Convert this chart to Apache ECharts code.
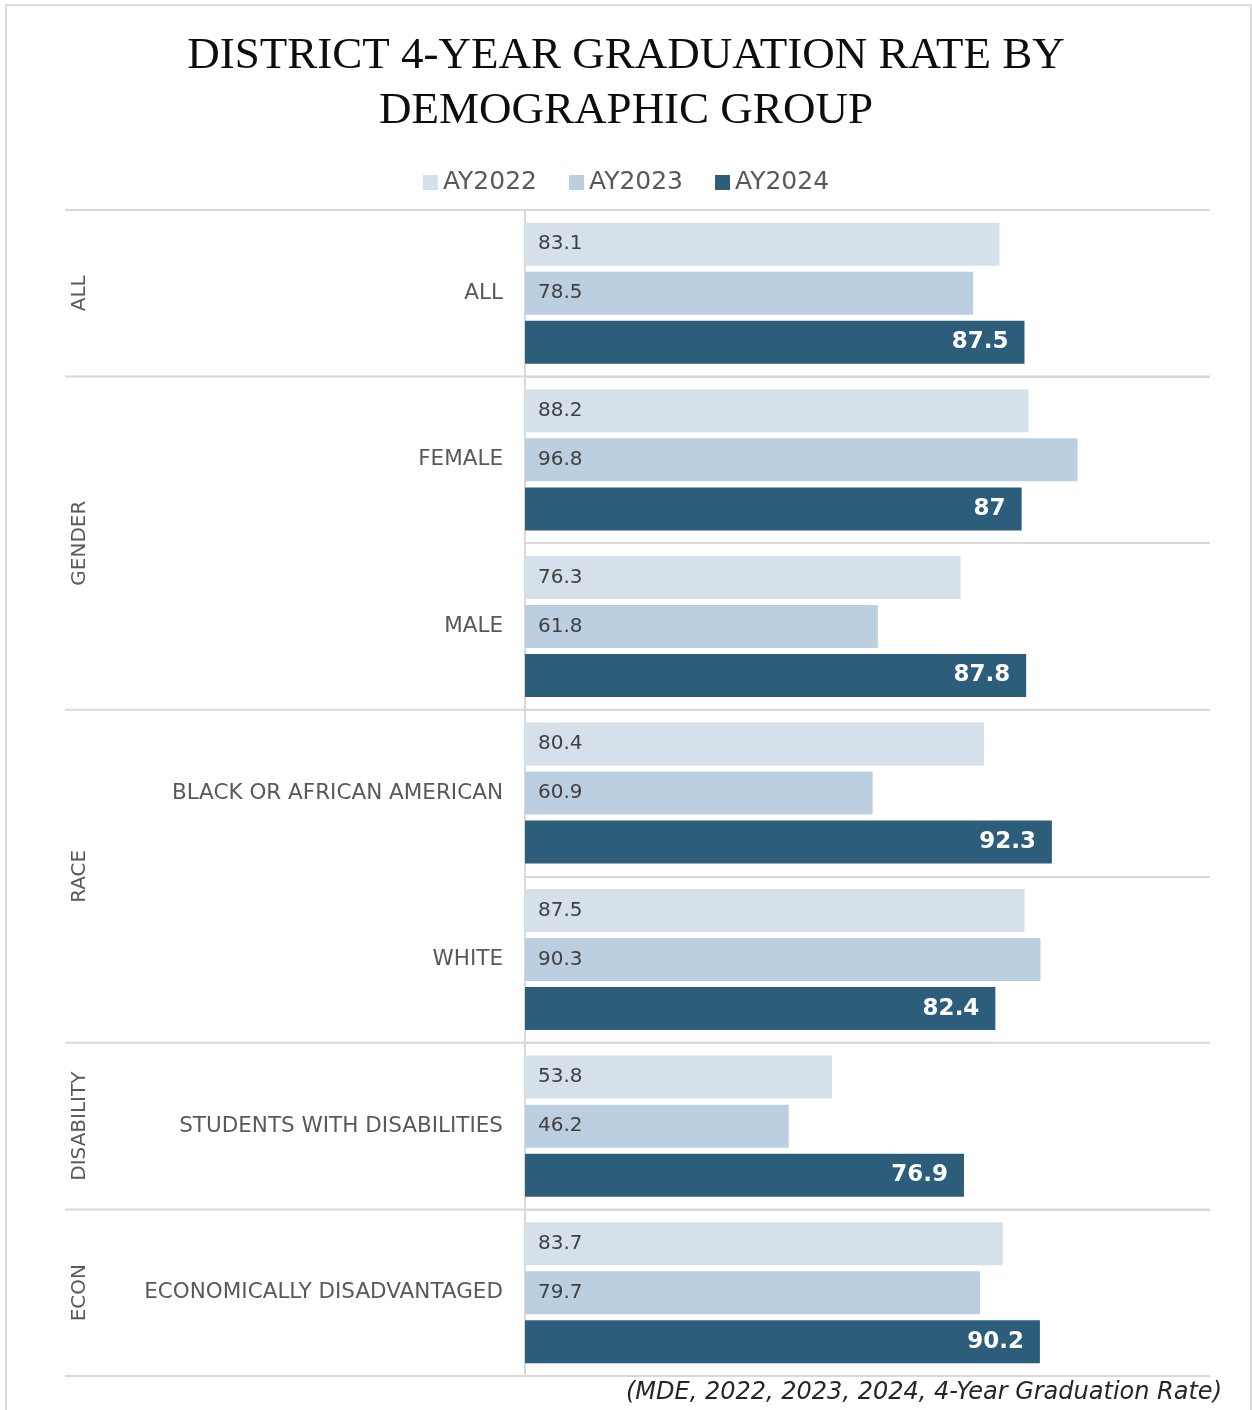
<!DOCTYPE html>
<html>
<head>
<meta charset="utf-8">
<title>District 4-Year Graduation Rate by Demographic Group</title>
<script src="https://cdn.jsdelivr.net/npm/echarts@6/dist/echarts.min.js"></script>
<style>
  html, body { margin: 0; padding: 0; background: #fff; }
  #chart { width: 1252px; height: 1410px; }
</style>
</head>
<body>
<div id="chart"></div>
<script>
// Subgroups, top to bottom
const categories = [
  'ALL',
  'FEMALE',
  'MALE',
  'BLACK OR AFRICAN AMERICAN',
  'WHITE',
  'STUDENTS WITH DISABILITIES',
  'ECONOMICALLY DISADVANTAGED'
];

// Group each subgroup belongs to (drawn vertically on the left)
const groups = ['ALL', 'GENDER', 'GENDER', 'RACE', 'RACE', 'DISABILITY', 'ECON'];

const seriesNames = ['AY2022', 'AY2023', 'AY2024'];

// Graduation rates (%)
const ay2022 = [83.1, 88.2, 76.3, 80.4, 87.5, 53.8, 83.7];
const ay2023 = [78.5, 96.8, 61.8, 60.9, 90.3, 46.2, 79.7];
const ay2024 = [87.5, 87.0, 87.8, 92.3, 82.4, 76.9, 90.2];

const sourceNote = '(MDE, 2022, 2023, 2024, 4-Year Graduation Rate)';

const COLORS = ['#d6e0eb', '#bccfe0', '#2c5d7b'];
const LINE = '#d9d9d9';
const LABEL_FONT = "'DejaVu Sans', sans-serif";

const chart = echarts.init(document.getElementById('chart'), null, { renderer: 'canvas' });

function lightLabel() {
  return {
    show: true,
    position: 'insideLeft',
    distance: 13,
    color: '#404040',
    fontFamily: LABEL_FONT,
    fontSize: 20,
    formatter: p => String(p.value)
  };
}

const option = {
  animation: false,
  backgroundColor: '#ffffff',
  title: {
    text: 'DISTRICT 4-YEAR GRADUATION RATE BY\nDEMOGRAPHIC GROUP',
    left: 'center',
    top: 24,
    textStyle: {
      fontFamily: "'Liberation Serif', 'DejaVu Serif', serif",
      fontSize: 45,
      fontWeight: 'normal',
      color: '#0d0d0d',
      lineHeight: 55
    }
  },
  legend: {
    data: seriesNames,
    top: 165,
    left: 'center',
    icon: 'rect',
    itemWidth: 15,
    itemHeight: 15,
    itemGap: 32,
    textStyle: {
      fontFamily: LABEL_FONT,
      fontSize: 25,
      color: '#595959'
    }
  },
  grid: {
    left: 525,
    right: 42,
    top: 210,
    bottom: 34,
    containLabel: false
  },
  xAxis: {
    type: 'value',
    min: 0,
    max: 120,
    show: false
  },
  yAxis: {
    type: 'category',
    data: categories,
    inverse: true,
    axisLine: { show: true, lineStyle: { color: LINE, width: 2 } },
    axisTick: { show: false },
    splitLine: { show: true, lineStyle: { color: LINE, width: 2 } },
    axisLabel: {
      margin: 22,
      color: '#595959',
      fontFamily: LABEL_FONT,
      fontSize: 21.5,
      align: 'right'
    }
  },
  series: [
    {
      name: seriesNames[0], type: 'bar', data: ay2022,
      barWidth: 43, barGap: '14%',
      itemStyle: { color: COLORS[0] },
      label: lightLabel()
    },
    {
      name: seriesNames[1], type: 'bar', data: ay2023,
      barWidth: 43, barGap: '14%',
      itemStyle: { color: COLORS[1] },
      label: lightLabel()
    },
    {
      name: seriesNames[2], type: 'bar', data: ay2024,
      barWidth: 43, barGap: '14%',
      itemStyle: { color: COLORS[2] },
      label: {
        show: true,
        position: 'insideRight',
        distance: 16,
        color: '#ffffff',
        fontWeight: 'bold',
        fontFamily: LABEL_FONT,
        fontSize: 23,
        formatter: p => String(p.value)
      }
    }
  ]
};

chart.setOption(option);

// Group separators and rotated group names, placed from the category scale
function buildGroupGraphics() {
  const yPix = i => chart.convertToPixel({ yAxisIndex: 0 }, i);
  const band = yPix(1) - yPix(0);
  const gridRight = chart.convertToPixel({ xAxisIndex: 0 }, 120);
  const leftEdge = 65;
  const els = [];

  // Outer frame
  els.push({
    type: 'rect',
    shape: { x: 6, y: 5, width: 1245, height: 1420 },
    style: { fill: null, stroke: '#dcdcdc', lineWidth: 2 },
    silent: true, z: 0
  });

  // Find runs of equal group names
  const runs = [];
  groups.forEach((g, i) => {
    const last = runs[runs.length - 1];
    if (last && last.name === g) last.end = i;
    else runs.push({ name: g, start: i, end: i });
  });

  runs.forEach((r, k) => {
    const top = yPix(r.start) - band / 2;
    const bottom = yPix(r.end) + band / 2;
    // top boundary across the label area
    els.push({
      type: 'line',
      shape: { x1: leftEdge, y1: top, x2: gridRight, y2: top },
      style: { stroke: LINE, lineWidth: 2 },
      silent: true, z: 5
    });
    if (k === runs.length - 1) {
      els.push({
        type: 'line',
        shape: { x1: leftEdge, y1: bottom, x2: gridRight, y2: bottom },
        style: { stroke: LINE, lineWidth: 2 },
        silent: true, z: 5
      });
    }
    els.push({
      type: 'text',
      x: 80,
      y: (top + bottom) / 2,
      rotation: Math.PI / 2,
      style: {
        text: r.name,
        fill: '#595959',
        font: "20px 'DejaVu Sans', sans-serif",
        align: 'center',
        verticalAlign: 'middle'
      },
      silent: true, z: 6
    });
  });

  // Source note
  els.push({
    type: 'text',
    x: 1222,
    y: 1393,
    style: {
      text: sourceNote,
      fill: '#262626',
      font: "italic 24px 'DejaVu Sans', sans-serif",
      align: 'right',
      verticalAlign: 'middle'
    },
    silent: true, z: 6
  });

  chart.setOption({ graphic: { elements: els } });
}

buildGroupGraphics();
</script>
</body>
</html>
